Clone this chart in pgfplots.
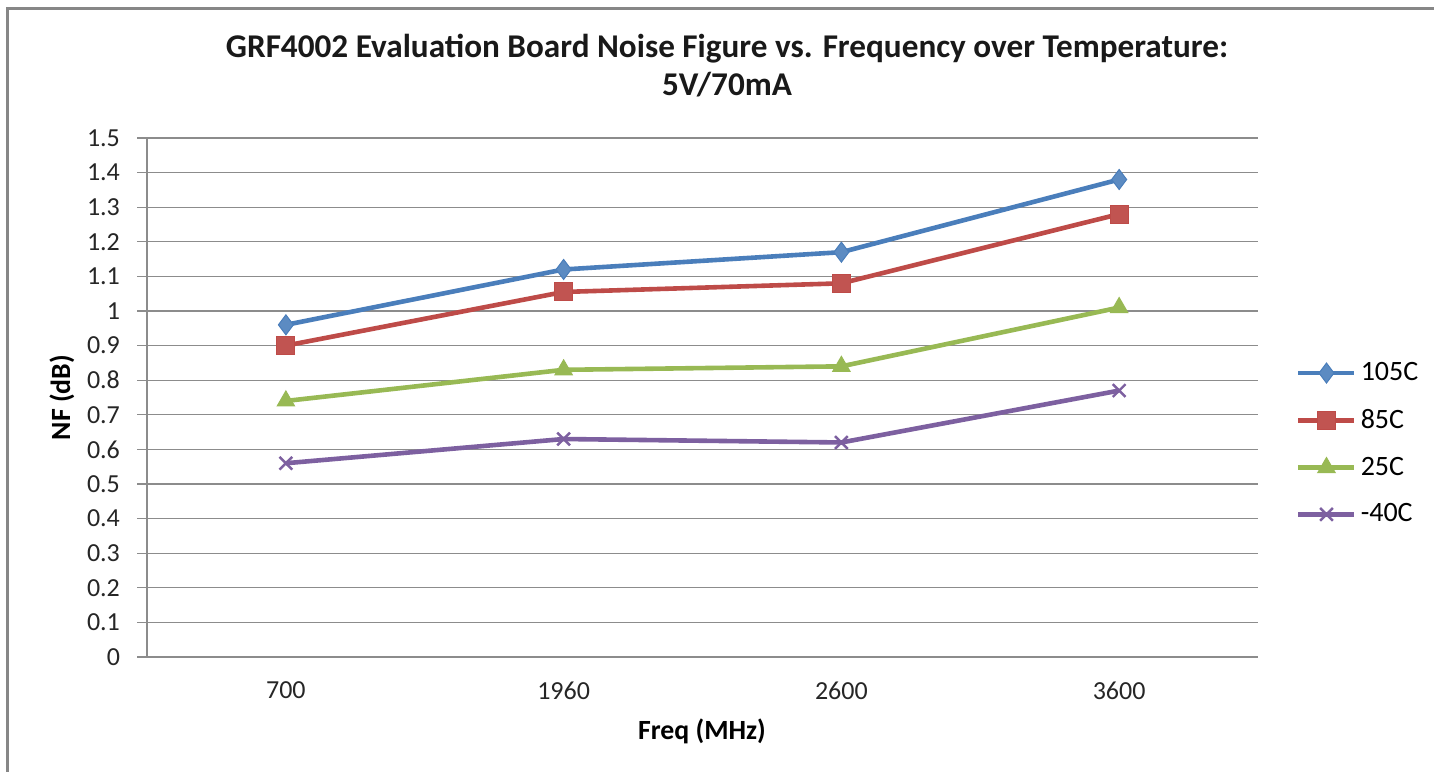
\documentclass[border=0pt]{standalone}
\usepackage{fontspec}
\setmainfont{Carlito}
\usepackage{pgfplots}
\pgfplotsset{compat=1.18}
\definecolor{s1}{HTML}{4A7EBB}
\definecolor{s2}{HTML}{BE4B48}
\definecolor{s3}{HTML}{98B954}
\definecolor{s4}{HTML}{7D60A0}
\definecolor{gridc}{HTML}{8C8C8C}
\definecolor{bordc}{HTML}{878787}
\begin{document}
\begin{tikzpicture}
\useasboundingbox (0,0) rectangle (717pt,385.5pt);
\fill[white] (0,0) rectangle (717pt,385.5pt);
\draw[bordc, line width=1.1pt] (3.75pt,-1pt) -- (3.75pt,381.25pt) -- (718pt,381.25pt);
\begin{axis}[
  at={(73.5pt,57pt)}, anchor=south west,
  scale only axis, width=555.5pt, height=259.5pt,
  xmin=-0.5, xmax=3.5, ymin=0, ymax=1.5,
  xtick={0,1,2,3}, xticklabels={700,1960,2600,3600},
  ytick={0,0.1,0.2,0.3,0.4,0.5,0.6,0.7,0.8,0.9,1,1.1,1.2,1.3,1.4,1.5},
  yticklabels={0,0.1,0.2,0.3,0.4,0.5,0.6,0.7,0.8,0.9,1,1.1,1.2,1.3,1.4,1.5},
  axis x line=bottom, axis y line=left,
  axis line style={gridc, line width=0.6pt, -},
  ymajorgrids, grid style={gridc, line width=0.6pt},
  x tick style={draw=none},
  y tick style={gridc, line width=0.6pt},
  tick align=outside, major tick length=5pt,
  ticklabel style={font=\fontsize{13}{15}\selectfont, text=black!85},
  xticklabel style={yshift=-4pt},
  yticklabel style={xshift=-5pt},
  /pgf/number format/assume math mode=true,
  clip=false,
  legend style={at={(1.034,0.411)}, anchor=west, draw=none, fill=none,
    font=\fontsize{14}{16}\selectfont, row sep=8.8pt, inner sep=0pt},
  legend cell align=left,
  legend image code/.code={\draw[mark repeat=2,mark phase=2] plot coordinates {(0pt,0pt) (14pt,0pt) (28pt,0pt)};},
  every axis plot/.append style={line width=2.3pt},
]
\addplot[s1, mark=diamond*, mark size=5pt, mark options={fill=s1!90!white, solid, line width=0.5pt}]
  coordinates {(0,0.96) (1,1.12) (2,1.17) (3,1.38)};
\addlegendentry{105C}
\addplot[s2, mark=square*, mark size=4.5pt, mark options={fill=s2!95!white, solid, line width=0.5pt}]
  coordinates {(0,0.90) (1,1.055) (2,1.08) (3,1.28)};
\addlegendentry{85C}
\addplot[s3, mark=triangle*, mark size=5pt, mark options={fill=s3, solid, line width=0.5pt}]
  coordinates {(0,0.74) (1,0.83) (2,0.84) (3,1.01)};
\addlegendentry{25C}
\addplot[s4, mark=x, mark size=4.5pt, mark options={solid, line width=1.2pt}]
  coordinates {(0,0.56) (1,0.63) (2,0.62) (3,0.77)};
\addlegendentry{-40C}
\end{axis}
\node[anchor=base, font=\bfseries\fontsize{16.6}{19}\selectfont, text=black!90] at (363.5pt,356.5pt) {GRF4002 Evaluation Board Noise Figure vs. Frequency over Temperature:};
\node[anchor=base, font=\bfseries\fontsize{16.6}{19}\selectfont, text=black!90] at (363.5pt,337.5pt) {5V/70mA};
\node[rotate=90, font=\bfseries\fontsize{13.9}{16}\selectfont] at (31pt,186.75pt) {NF (dB)};
\node[font=\bfseries\fontsize{13.9}{16}\selectfont] at (351pt,20pt) {Freq (MHz)};
\end{tikzpicture}
\end{document}
